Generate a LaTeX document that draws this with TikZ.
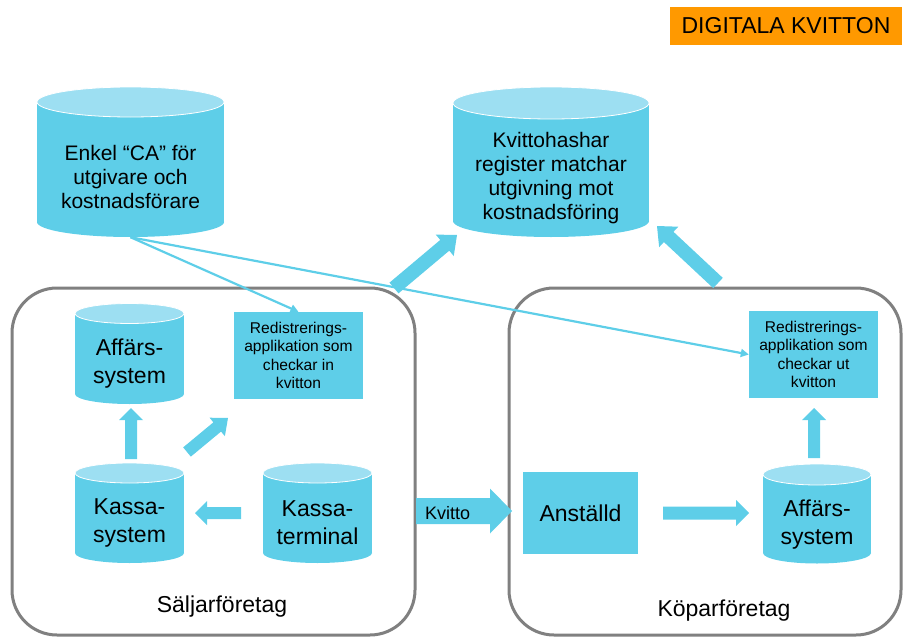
\documentclass[tikz,border=0pt]{standalone}
\usepackage{fontspec}
\setmainfont{Liberation Sans}
\usetikzlibrary{arrows.meta,calc}

\definecolor{cyanbody}{RGB}{94,206,232}
\definecolor{cyantop}{RGB}{157,223,242}
\definecolor{framegray}{RGB}{128,128,128}
\definecolor{titleorange}{RGB}{255,153,0}

\tikzset{
  drumbody/.style={fill=cyanbody},
  drumtop/.style={fill=cyantop, draw=white, line width=0.8pt},
  bigtext/.style={font=\fontsize{23}{28}\selectfont, align=center},
  midtext/.style={font=\fontsize{21}{24}\selectfont, align=center},
  smalltext/.style={font=\fontsize{15.6}{18.3}\selectfont, align=center},
  appbox/.style={fill=cyanbody, inner sep=0pt},
  company/.style={draw=framegray, line width=3pt, rounded corners=45pt},
  link/.style={draw=cyanbody, line width=2.2pt, -{Triangle[length=8pt,width=8pt]}},
  arrowfill/.style={fill=cyanbody}
}

% cylinder: name, cx, top centre y, bottom centre y, x radius, y radius, text style, text
\newcommand\drum[8]{%
  \fill[drumbody] (#2-#5,#3) rectangle (#2+#5,#4);
  \fill[drumbody] (#2,#4) ellipse[x radius=#5, y radius=#6];
  \filldraw[drumtop] (#2,#3) ellipse[x radius=#5, y radius=#6];
  \pgfmathsetmacro\drumh{#4-#3}%
  \pgfmathsetmacro\drumw{2*#5}%
  \pgfmathsetmacro\drumy{(#3+#4)/2+#6}%
  \node[#7, minimum width=\drumw pt, minimum height=\drumh pt, inner sep=0pt] (#1) at (#2,\drumy) {#8};
}

% block arrow: from, to, shaft half width, head half width, head length (pt)
\newcommand\blockarrow[5]{%
  \fill[arrowfill] let \p1=(#1), \p2=(#2),
      \n1={atan2(\y2-\y1,\x2-\x1)}, \n2={veclen(\x2-\x1,\y2-\y1)-#5} in
    ($(\p1)+(\n1+90:#3)$) -- ($(\p1)+(\n1:\n2)+(\n1+90:#3)$)
    -- ($(\p1)+(\n1:\n2)+(\n1+90:#4)$) -- (\p2)
    -- ($(\p1)+(\n1:\n2)+(\n1-90:#4)$) -- ($(\p1)+(\n1:\n2)+(\n1-90:#3)$)
    -- ($(\p1)+(\n1-90:#3)$) -- cycle;
}

\begin{document}
\begin{tikzpicture}[x=1pt,y=-1pt]
\useasboundingbox (0,0) rectangle (903,637);

% title
\node[fill=titleorange, minimum width=232pt, minimum height=38pt, inner sep=0pt,
      font=\fontsize{23}{28}\selectfont] (title) at (786,26) {DIGITALA KVITTON};

% company frames
\draw[company] (12,288) rectangle (415,635);
\draw[company] (509,288) rectangle (901,635);
\node[bigtext] (seller) at (222,607) {Säljarföretag};
\node[bigtext] (buyer) at (724,611) {Köparföretag};

% shared registers
\drum{ca}{130.5}{102}{222}{93.5}{15}{midtext}{Enkel “CA” för\\utgivare och\\kostnadsförare}
\drum{hash}{551}{103}{221}{98}{16}{midtext}{Kvittohashar\\register matchar\\utgivning mot\\kostnadsföring}

% seller side
\drum{affL}{129.5}{313.5}{394}{54.5}{10}{bigtext}{Affärs-\\system}
\drum{kassaS}{129.5}{473}{553}{54.5}{10}{bigtext}{Kassa-\\system}
\drum{kassaT}{317.5}{473}{553}{54.5}{10}{bigtext}{Kassa-\\terminal}
\node[appbox, smalltext, minimum width=129pt, minimum height=87pt] (redL) at (298.5,355.5)
  {Redistrerings-\\applikation som\\checkar in\\kvitton};

% buyer side
\node[appbox, smalltext, minimum width=129pt, minimum height=87pt] (redR) at (813.5,354.5)
  {Redistrerings-\\applikation som\\checkar ut\\kvitton};
\node[appbox, bigtext, minimum width=115pt, minimum height=82pt] (anst) at (580.5,513) {Anställd};
\drum{affR}{817}{474.5}{553}{54}{10.5}{bigtext}{Affärs-\\system}

% block arrow end points
\coordinate (upLs) at (131,459);   \coordinate (upLe) at (131,408);
\coordinate (dgLs) at (187,452);   \coordinate (dgLe) at (228,418);
\coordinate (ktS)  at (241,513);   \coordinate (ktE)  at (195,513);
\coordinate (kvS)  at (416,511);   \coordinate (kvE)  at (512,511);
\coordinate (anS)  at (663,513);   \coordinate (anE)  at (749,513);
\coordinate (upRs) at (814,458);   \coordinate (upRe) at (814,408);
\coordinate (hsLs) at (394,288);   \coordinate (hsLe) at (457,235);
\coordinate (hsRs) at (718,283);   \coordinate (hsRe) at (657,226);

\blockarrow{upLs}{upLe}{6pt}{12pt}{12pt}
\blockarrow{dgLs}{dgLe}{6pt}{12pt}{14pt}
\blockarrow{ktS}{ktE}{6pt}{12pt}{12pt}
\blockarrow{kvS}{kvE}{13pt}{22.5pt}{22pt}
\blockarrow{anS}{anE}{6.5pt}{13pt}{13pt}
\blockarrow{upRs}{upRe}{6pt}{12pt}{12pt}
\blockarrow{hsLs}{hsLe}{7pt}{14pt}{16pt}
\blockarrow{hsRs}{hsRe}{7pt}{14pt}{16pt}
\node[anchor=west, font=\fontsize{18}{22}\selectfont, inner sep=0pt] (kvitto) at ($(kvS)+(9,2)$) {Kvitto};

% certificate links
\draw[link] (ca.south) -- (redL.north);
\draw[link] (ca.south) -- (redR.west);
\end{tikzpicture}
\end{document}
